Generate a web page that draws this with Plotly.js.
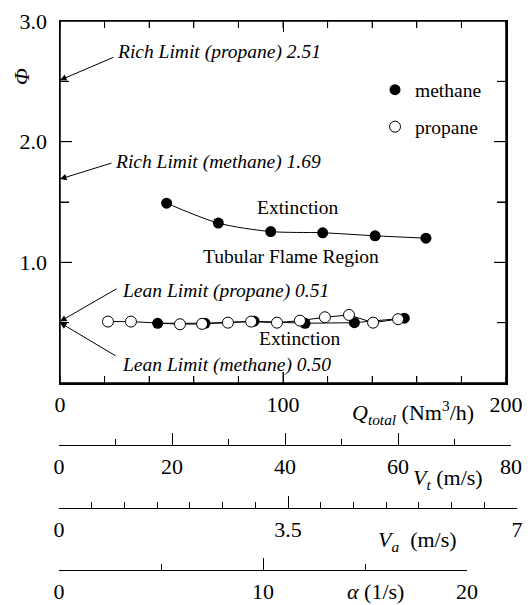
<!DOCTYPE html>
<html>
<head>
<meta charset="utf-8">
<script src="https://cdn.plot.ly/plotly-3.0.1.min.js"></script>
<style>html,body{margin:0;padding:0;background:#fff;}#chart{width:528px;height:605px;}</style>
</head>
<body>
<div id="chart"></div>
<script>
// ---- data ----
const methaneUpperQ   = [47.8, 71.0, 94.5, 117.8, 141.3, 164.1];
const methaneUpperPhi = [1.49, 1.325, 1.255, 1.245, 1.22, 1.20];
const methaneLowerQ   = [43.8, 65.0, 87.0, 109.9, 132.0, 154.4];
const methaneLowerPhi = [0.495, 0.495, 0.512, 0.495, 0.50, 0.537];
const propaneQ   = [21.5, 31.8, 53.8, 63.7, 75.3, 85.7, 97.3, 107.6, 118.8, 129.6, 140.4, 151.6];
const propanePhi = [0.509, 0.509, 0.487, 0.49, 0.50, 0.509, 0.50, 0.517, 0.545, 0.564, 0.50, 0.529];

const limitLabels = ['Rich Limit (propane) 2.51', 'Rich Limit (methane) 1.69', 'Lean Limit (propane) 0.51', 'Lean Limit (methane) 0.50'];
const limitValues = [2.51, 1.69, 0.51, 0.50];

const seriesNames = ['methane', 'propane'];
const yTickVals = [1, 2, 3];
const yTickText = ['1.0', '2.0', '3.0'];
const qTickVals = [0, 20, 40, 60, 80, 100, 120, 140, 160, 180, 200];
const phiTickVals = [0.5, 1.0, 1.5, 2.0, 2.5];
const qRange = [0, 200];
const phiRange = [0, 3];
const vtRange = [0, 80];
const vaRange = [0, 7];
const alphaRange = [0, 20];

// ---- styling / layout ----
const FONT = 'Liberation Serif';
const BLACK = '#000';

const traces = [
  {x: methaneUpperQ, y: methaneUpperPhi, mode: 'lines', line: {color: BLACK, width: 1, shape: 'spline', smoothing: 0.8}, showlegend: false, hoverinfo: 'skip'},
  {x: methaneLowerQ, y: methaneLowerPhi, mode: 'lines', line: {color: BLACK, width: 1}, showlegend: false, hoverinfo: 'skip'},
  {x: propaneQ, y: propanePhi, mode: 'lines', line: {color: BLACK, width: 1}, showlegend: false, hoverinfo: 'skip'},
  {x: methaneUpperQ.concat(methaneLowerQ), y: methaneUpperPhi.concat(methaneLowerPhi), mode: 'markers', name: seriesNames[0],
   marker: {symbol: 'circle', size: 11, color: BLACK, line: {color: BLACK, width: 0}}, legend: 'legend'},
  {x: propaneQ, y: propanePhi, mode: 'markers', name: seriesNames[1],
   marker: {symbol: 'circle', size: 11, color: '#fff', line: {color: BLACK, width: 1}}, legend: 'legend2'},
  // empty helpers so that the three extra scales (rulers) get their own small subplots
  {x: [], y: [], xaxis: 'x2', yaxis: 'y3', showlegend: false, hoverinfo: 'skip'},
  {x: [], y: [], xaxis: 'x3', yaxis: 'y4', showlegend: false, hoverinfo: 'skip'},
  {x: [], y: [], xaxis: 'x4', yaxis: 'y5', showlegend: false, hoverinfo: 'skip'}
];

const L = 59, R = 10, T = 21, B = 35, W = 528, H = 605;
const PW = W - L - R, PH = H - T - B;
const px = v => (v - L) / PW;
const py = v => (H - B - v) / PH;

function rulerAxis(range, dtick, minorDtick, domainRight, yId) {
  return {
    domain: [0, domainRight], range: range, anchor: yId, side: 'bottom',
    showline: true, linecolor: BLACK, linewidth: 1.2,
    ticks: 'inside', ticklen: 12, tickwidth: 1, tickcolor: BLACK,
    tickmode: 'linear', tick0: 0, dtick: dtick,
    minor: {tickmode: 'linear', tick0: 0, dtick: minorDtick, ticks: 'inside', ticklen: 6, tickwidth: 1, tickcolor: BLACK},
    showgrid: false, zeroline: false, ticklabelstandoff: 1,
    tickfont: {family: FONT, size: 22, color: BLACK}, fixedrange: true
  };
}
function rulerHolder(pos, xId) {
  return {domain: [pos, pos + 0.002], range: [0, 1], anchor: xId, visible: false, fixedrange: true};
}

// frame and its tick marks, placed through the axis scales
const shapes = [{type: 'rect', xref: 'x', yref: 'y', x0: qRange[0], x1: qRange[1], y0: phiRange[0], y1: phiRange[1],
                 line: {color: BLACK, width: 1.5}, fillcolor: 'rgba(0,0,0,0)', layer: 'above'}];
qTickVals.forEach(v => {
  const len = (v === 100) ? 11 : 7;
  shapes.push({type: 'line', xref: 'x', yref: 'y', ysizemode: 'pixel', yanchor: phiRange[0], x0: v, x1: v, y0: 0, y1: len,
               line: {color: BLACK, width: 1}, layer: 'above'});
  shapes.push({type: 'line', xref: 'x', yref: 'y', ysizemode: 'pixel', yanchor: phiRange[1], x0: v, x1: v, y0: 0, y1: -7,
               line: {color: BLACK, width: 1}, layer: 'above'});
});
phiTickVals.forEach(v => {
  const len = (v % 1 === 0) ? 12 : 9;
  shapes.push({type: 'line', xref: 'x', yref: 'y', xsizemode: 'pixel', xanchor: qRange[0], y0: v, y1: v, x0: 0, x1: len,
               line: {color: BLACK, width: 1}, layer: 'above'});
  shapes.push({type: 'line', xref: 'x', yref: 'y', xsizemode: 'pixel', xanchor: qRange[1], y0: v, y1: v, x0: 0, x1: -len,
               line: {color: BLACK, width: 1}, layer: 'above'});
});

const annotations = [];
// arrows to the flammability limits on the left axis
const arrowOffsets = [[55, -23.5], [53, -16.5], [58, -33.5], [57, 34]];
const textPos = [[24.7, 2.747], [23.8, 1.834], [26.9, 0.763], [26.9, 0.149]];
limitValues.forEach((v, i) => {
  annotations.push({x: 0, y: v, xref: 'x', yref: 'y', text: '', showarrow: true,
    ax: arrowOffsets[i][0], ay: arrowOffsets[i][1], axref: 'pixel', ayref: 'pixel',
    arrowhead: 2, arrowsize: 1.3, arrowwidth: 1, arrowcolor: BLACK, standoff: 0, startstandoff: 0});
  annotations.push({x: textPos[i][0], y: textPos[i][1], xref: 'x', yref: 'y', text: '<i>' + limitLabels[i] + '</i>',
    showarrow: false, xanchor: 'left', yanchor: 'middle', font: {family: FONT, size: 19.5, color: BLACK}});
});
annotations.push({x: 106.7, y: 1.452, xref: 'x', yref: 'y', text: 'Extinction', showarrow: false, font: {family: FONT, size: 19.5, color: BLACK}});
annotations.push({x: 103.8, y: 1.046, xref: 'x', yref: 'y', text: 'Tubular Flame Region', showarrow: false, font: {family: FONT, size: 19.5, color: BLACK}});
annotations.push({x: 107.6, y: 0.365, xref: 'x', yref: 'y', text: 'Extinction', showarrow: false, font: {family: FONT, size: 19.5, color: BLACK}});
// axis titles
annotations.push({x: px(22), y: py(77), xref: 'paper', yref: 'paper', text: '<i>Φ</i>', textangle: -90, showarrow: false,
  xanchor: 'center', yanchor: 'middle', font: {family: FONT, size: 22, color: BLACK}});
annotations.push({x: px(350), y: py(412), xref: 'paper', yref: 'paper', text: '<i>Q</i><sub><i>total</i></sub> (Nm<sup>3</sup>/h)', showarrow: false,
  xanchor: 'left', yanchor: 'middle', font: {family: FONT, size: 22, color: BLACK}});
annotations.push({x: px(411), y: py(479), xref: 'paper', yref: 'paper', text: '<i>V</i><sub><i>t</i></sub> (m/s)', showarrow: false,
  xanchor: 'left', yanchor: 'middle', font: {family: FONT, size: 22, color: BLACK}});
annotations.push({x: px(376), y: py(541), xref: 'paper', yref: 'paper', text: '<i>V</i><sub><i>a</i></sub>  (m/s)', showarrow: false,
  xanchor: 'left', yanchor: 'middle', font: {family: FONT, size: 22, color: BLACK}});
annotations.push({x: px(345), y: py(591), xref: 'paper', yref: 'paper', text: '<i>α</i> (1/s)', showarrow: false,
  xanchor: 'left', yanchor: 'middle', font: {family: FONT, size: 22, color: BLACK}});

const layout = {
  width: W, height: H,
  margin: {l: L, r: R, t: T, b: B, autoexpand: false},
  paper_bgcolor: '#fff', plot_bgcolor: 'rgba(0,0,0,0)',
  font: {family: FONT, size: 22, color: BLACK},
  showlegend: true,
  legend: {x: px(375), y: py(90), xanchor: 'left', yanchor: 'middle', bgcolor: 'rgba(0,0,0,0)', borderwidth: 0,
           font: {family: FONT, size: 19.5, color: BLACK}},
  legend2: {x: px(375), y: py(127), xanchor: 'left', yanchor: 'middle', bgcolor: 'rgba(0,0,0,0)', borderwidth: 0,
           font: {family: FONT, size: 19.5, color: BLACK}},
  xaxis: {
    domain: [px(60), px(506)], range: qRange, anchor: 'y', side: 'bottom',
    showline: true, linecolor: BLACK, linewidth: 1.5, mirror: 'ticks',
    ticks: 'inside', ticklen: 11, tickwidth: 1, tickcolor: BLACK,
    tickmode: 'linear', tick0: 0, dtick: 100,
    minor: {tickmode: 'linear', tick0: 0, dtick: 20, ticks: 'inside', ticklen: 7, tickwidth: 1, tickcolor: BLACK},
    showgrid: false, zeroline: false, ticklabelstandoff: 1,
    tickfont: {family: FONT, size: 22, color: BLACK}, fixedrange: true
  },
  yaxis: {
    domain: [py(383), 1], range: phiRange, anchor: 'x', side: 'left',
    showline: true, linecolor: BLACK, linewidth: 1.5, mirror: 'ticks',
    ticks: 'inside', ticklen: 12, tickwidth: 1, tickcolor: BLACK,
    tickmode: 'array', tickvals: yTickVals, ticktext: yTickText,
    minor: {tickmode: 'linear', tick0: 0, dtick: 0.5, ticks: 'inside', ticklen: 9, tickwidth: 1, tickcolor: BLACK},
    showgrid: false, zeroline: false, ticklabelstandoff: 7,
    tickfont: {family: FONT, size: 22, color: BLACK}, fixedrange: true
  },
  xaxis2: rulerAxis(vtRange, 20, 10, px(511), 'y3'),
  xaxis3: rulerAxis(vaRange, 3.5, 0.5, px(517), 'y4'),
  xaxis4: rulerAxis(alphaRange, 10, 5, px(467), 'y5'),
  yaxis3: rulerHolder(py(445), 'x2'),
  yaxis4: rulerHolder(py(508), 'x3'),
  yaxis5: rulerHolder(0, 'x4'),
  shapes: shapes,
  annotations: annotations
};

Plotly.newPlot('chart', traces, layout, {staticPlot: true, displayModeBar: false});
</script>
</body>
</html>
